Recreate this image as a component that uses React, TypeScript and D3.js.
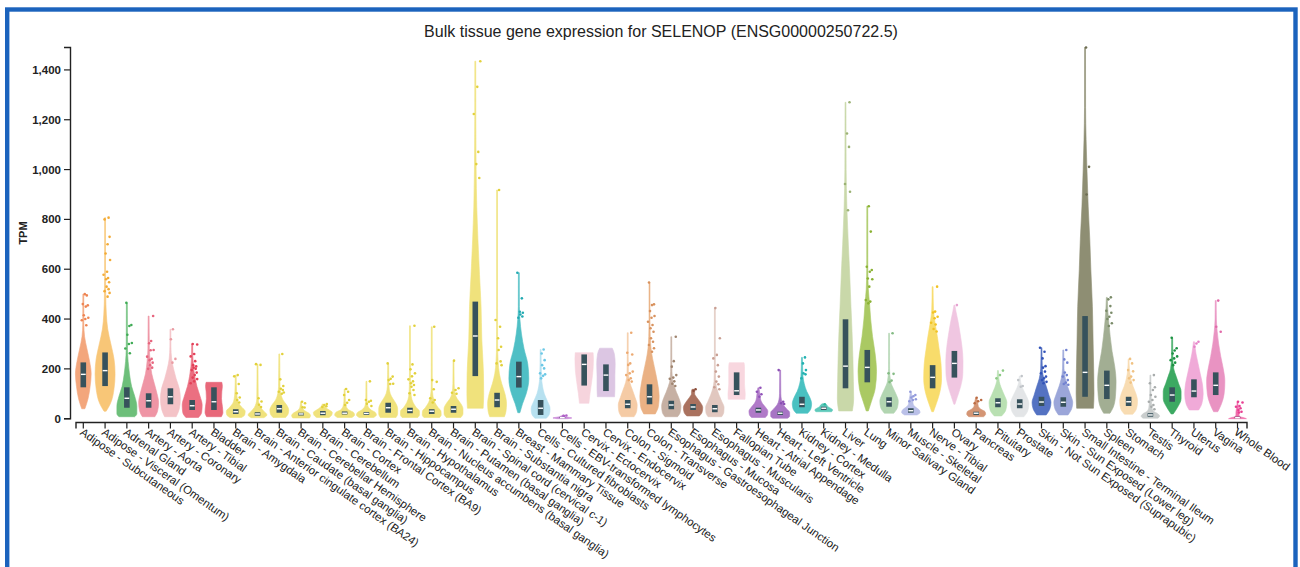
import React from "react";
import * as d3 from "d3";

const tissues = [
  "Adipose - Subcutaneous", "Adipose - Visceral (Omentum)", "Adrenal Gland", "Artery - Aorta",
  "Artery - Coronary", "Artery - Tibial", "Bladder", "Brain - Amygdala",
  "Brain - Anterior cingulate cortex (BA24)", "Brain - Caudate (basal ganglia)", "Brain - Cerebellar Hemisphere",
  "Brain - Cerebellum", "Brain - Cortex", "Brain - Frontal Cortex (BA9)", "Brain - Hippocampus",
  "Brain - Hypothalamus", "Brain - Nucleus accumbens (basal ganglia)", "Brain - Putamen (basal ganglia)",
  "Brain - Spinal cord (cervical c-1)", "Brain - Substantia nigra", "Breast - Mammary Tissue",
  "Cells - Cultured fibroblasts", "Cells - EBV-transformed lymphocytes", "Cervix - Ectocervix",
  "Cervix - Endocervix", "Colon - Sigmoid", "Colon - Transverse", "Esophagus - Gastroesophageal Junction",
  "Esophagus - Mucosa", "Esophagus - Muscularis", "Fallopian Tube", "Heart - Atrial Appendage",
  "Heart - Left Ventricle", "Kidney - Cortex", "Kidney - Medulla", "Liver", "Lung", "Minor Salivary Gland",
  "Muscle - Skeletal", "Nerve - Tibial", "Ovary", "Pancreas", "Pituitary", "Prostate",
  "Skin - Not Sun Exposed (Suprapubic)", "Skin - Sun Exposed (Lower leg)", "Small Intestine - Terminal Ileum",
  "Spleen", "Stomach", "Testis", "Thyroid", "Uterus", "Vagina", "Whole Blood",
];

// [q1, median, q3] in TPM
const quartiles: [number, number, number][] = [
  [126, 178, 226], [131, 193, 266], [44, 82, 126], [44, 72, 102], [58, 88, 122], [35, 52, 75],
  [35, 68, 126], [19, 28, 38], [12, 19, 26], [24, 40, 55], [13, 19, 24], [14, 22, 31],
  [17, 22, 29], [15, 21, 27], [24, 44, 64], [22, 33, 44], [19, 30, 38], [24, 38, 51],
  [171, 332, 470], [46, 75, 104], [125, 169, 229], [15, 42, 75], [2, 4, 7], [133, 218, 258],
  [111, 175, 218], [42, 58, 75], [58, 88, 138], [38, 55, 72], [35, 47, 59], [26, 40, 55],
  [95, 112, 186], [24, 35, 44], [15, 22, 28], [46, 58, 88], [35, 42, 48], [122, 211, 399],
  [146, 206, 276], [48, 68, 86], [24, 32, 42], [122, 166, 215], [165, 222, 272], [15, 22, 28],
  [46, 64, 82], [42, 59, 78], [51, 67, 88], [48, 66, 86], [88, 186, 412], [79, 134, 193],
  [51, 68, 88], [8, 15, 22], [68, 95, 126], [86, 111, 158], [95, 134, 186], [2, 4, 8],
];

// density profile: [TPM, relative density] from min to max
const densities: [number, number][][] = [
  [[40, 0.15], [80, 0.45], [130, 0.65], [180, 0.75], [230, 0.6], [280, 0.35], [330, 0.12], [380, 0.05], [500, 0.03]],
  [[30, 0.1], [60, 0.5], [120, 0.85], [180, 0.95], [240, 0.85], [300, 0.55], [360, 0.25], [420, 0.12], [500, 0.06], [600, 0.04], [807, 0.03]],
  [[8, 0.75], [20, 0.95], [50, 0.95], [90, 0.75], [130, 0.45], [180, 0.25], [230, 0.12], [280, 0.06], [465, 0.03]],
  [[8, 0.6], [30, 0.85], [65, 0.95], [100, 0.8], [140, 0.55], [180, 0.3], [230, 0.15], [280, 0.07], [412, 0.03]],
  [[8, 0.55], [40, 0.85], [80, 0.95], [120, 0.85], [160, 0.55], [200, 0.3], [240, 0.12], [290, 0.05], [359, 0.03]],
  [[5, 0.6], [25, 0.9], [55, 0.95], [90, 0.75], [130, 0.45], [170, 0.25], [210, 0.12], [250, 0.06], [300, 0.03]],
  [[8, 0.7], [25, 0.85], [50, 0.8], [80, 0.72], [110, 0.75], [130, 0.8], [146, 0.75]],
  [[5, 0.55], [15, 0.85], [30, 0.9], [45, 0.6], [60, 0.3], [80, 0.15], [110, 0.08], [175, 0.03]],
  [[4, 0.6], [15, 0.9], [30, 0.6], [45, 0.3], [60, 0.15], [80, 0.07], [219, 0.03]],
  [[5, 0.6], [20, 0.85], [35, 0.9], [55, 0.7], [75, 0.35], [100, 0.15], [130, 0.07], [260, 0.03]],
  [[3, 0.8], [12, 0.9], [22, 0.75], [32, 0.35], [45, 0.12], [68, 0.03]],
  [[5, 0.6], [15, 0.85], [25, 0.9], [35, 0.6], [45, 0.25], [59, 0.05]],
  [[5, 0.7], [15, 0.95], [25, 0.85], [35, 0.4], [50, 0.15], [70, 0.07], [119, 0.03]],
  [[5, 0.7], [15, 0.95], [25, 0.85], [35, 0.45], [50, 0.15], [70, 0.06], [150, 0.03]],
  [[5, 0.75], [20, 0.9], [40, 0.9], [60, 0.75], [80, 0.45], [100, 0.2], [130, 0.08], [222, 0.03]],
  [[5, 0.75], [15, 0.9], [30, 0.9], [45, 0.6], [65, 0.3], [90, 0.12], [130, 0.06], [200, 0.04], [373, 0.03]],
  [[5, 0.75], [15, 0.9], [30, 0.88], [45, 0.6], [65, 0.3], [90, 0.12], [130, 0.05], [369, 0.03]],
  [[5, 0.7], [20, 0.9], [40, 0.9], [60, 0.7], [80, 0.35], [100, 0.15], [140, 0.06], [233, 0.03]],
  [[42, 0.75], [100, 0.8], [180, 0.78], [320, 0.62], [450, 0.55], [580, 0.4], [720, 0.25], [850, 0.14], [1000, 0.08], [1200, 0.05], [1435, 0.03]],
  [[8, 0.7], [30, 0.85], [60, 0.9], [100, 0.75], [140, 0.45], [180, 0.22], [230, 0.1], [300, 0.05], [500, 0.03], [918, 0.025]],
  [[24, 0.1], [60, 0.35], [100, 0.7], [160, 0.95], [220, 0.85], [280, 0.5], [340, 0.25], [400, 0.1], [450, 0.05], [586, 0.03]],
  [[2, 0.55], [20, 0.85], [40, 0.9], [70, 0.65], [100, 0.35], [130, 0.18], [170, 0.08], [278, 0.03]],
  [[0, 0.5], [3, 0.9], [7, 0.4], [12, 0.1]],
  [[62, 0.45], [100, 0.55], [150, 0.72], [200, 0.85], [240, 0.88], [265, 0.85]],
  [[88, 0.82], [120, 0.85], [170, 0.85], [220, 0.88], [260, 0.8], [283, 0.6]],
  [[8, 0.6], [30, 0.85], [55, 0.9], [85, 0.7], [115, 0.45], [145, 0.2], [180, 0.07], [250, 0.04], [345, 0.03]],
  [[19, 0.55], [50, 0.85], [90, 0.92], [130, 0.82], [170, 0.65], [210, 0.45], [240, 0.3], [280, 0.15], [330, 0.07], [400, 0.04], [547, 0.03]],
  [[8, 0.6], [25, 0.85], [50, 0.92], [80, 0.75], [105, 0.5], [130, 0.28], [160, 0.1], [220, 0.05], [329, 0.03]],
  [[11, 0.6], [25, 0.85], [45, 0.92], [65, 0.7], [85, 0.35], [100, 0.15], [110, 0.15], [118, 0.1]],
  [[8, 0.65], [25, 0.85], [45, 0.88], [70, 0.65], [95, 0.4], [120, 0.2], [150, 0.08], [220, 0.04], [444, 0.03]],
  [[78, 0.8], [100, 0.82], [140, 0.75], [180, 0.75], [210, 0.75], [225, 0.7]],
  [[5, 0.65], [15, 0.85], [30, 0.9], [45, 0.7], [60, 0.4], [75, 0.22], [95, 0.15], [110, 0.1], [124, 0.05]],
  [[2, 0.7], [10, 0.9], [25, 0.9], [40, 0.6], [55, 0.3], [75, 0.12], [100, 0.06], [195, 0.03]],
  [[22, 0.55], [40, 0.85], [60, 0.92], [85, 0.75], [110, 0.45], [140, 0.22], [170, 0.1], [246, 0.04]],
  [[28, 0.75], [35, 0.85], [42, 0.65], [48, 0.4], [55, 0.3], [60, 0.15]],
  [[31, 0.65], [80, 0.78], [150, 0.75], [250, 0.7], [350, 0.62], [450, 0.52], [580, 0.4], [700, 0.27], [850, 0.13], [1000, 0.06], [1270, 0.03]],
  [[31, 0.1], [70, 0.4], [120, 0.75], [190, 0.88], [260, 0.75], [330, 0.5], [400, 0.32], [460, 0.22], [520, 0.1], [600, 0.05], [853, 0.03]],
  [[22, 0.45], [45, 0.8], [70, 0.88], [95, 0.7], [120, 0.42], [150, 0.15], [200, 0.05], [343, 0.03]],
  [[15, 0.6], [25, 0.88], [35, 0.8], [45, 0.5], [55, 0.25], [65, 0.2], [80, 0.15], [95, 0.08], [108, 0.03]],
  [[28, 0.08], [60, 0.35], [100, 0.65], [160, 0.85], [220, 0.8], [280, 0.62], [330, 0.45], [380, 0.25], [440, 0.08], [530, 0.03]],
  [[58, 0.05], [90, 0.3], [130, 0.6], [180, 0.8], [230, 0.82], [290, 0.72], [340, 0.55], [390, 0.35], [430, 0.15], [456, 0.04]],
  [[8, 0.7], [18, 0.9], [28, 0.85], [38, 0.45], [50, 0.2], [65, 0.15], [84, 0.05]],
  [[11, 0.35], [35, 0.75], [65, 0.85], [95, 0.6], [125, 0.3], [150, 0.12], [193, 0.03]],
  [[8, 0.4], [30, 0.75], [60, 0.88], [90, 0.65], [120, 0.3], [145, 0.1], [171, 0.03]],
  [[15, 0.45], [40, 0.8], [65, 0.9], [95, 0.7], [130, 0.45], [160, 0.22], [200, 0.08], [285, 0.03]],
  [[15, 0.45], [40, 0.8], [65, 0.9], [95, 0.7], [130, 0.4], [160, 0.2], [200, 0.07], [276, 0.03]],
  [[42, 0.8], [100, 0.85], [200, 0.82], [300, 0.77], [450, 0.7], [600, 0.55], [720, 0.45], [850, 0.3], [1000, 0.18], [1120, 0.1], [1250, 0.05], [1490, 0.03]],
  [[22, 0.3], [45, 0.6], [90, 0.82], [150, 0.88], [210, 0.75], [270, 0.5], [330, 0.32], [380, 0.2], [430, 0.1], [487, 0.03]],
  [[18, 0.4], [40, 0.75], [70, 0.85], [100, 0.7], [130, 0.42], [160, 0.22], [200, 0.08], [240, 0.03]],
  [[2, 0.7], [10, 0.88], [20, 0.7], [30, 0.3], [45, 0.15], [70, 0.1], [100, 0.06], [175, 0.03]],
  [[19, 0.1], [45, 0.5], [80, 0.85], [110, 0.85], [140, 0.62], [170, 0.38], [200, 0.15], [250, 0.06], [325, 0.03]],
  [[35, 0.45], [60, 0.75], [100, 0.88], [140, 0.8], [180, 0.6], [220, 0.4], [260, 0.2], [309, 0.04]],
  [[28, 0.2], [60, 0.55], [100, 0.8], [150, 0.87], [200, 0.72], [250, 0.48], [300, 0.28], [350, 0.14], [400, 0.06], [474, 0.03]],
  [[0, 0.85], [4, 0.6], [8, 0.25], [15, 0.15], [25, 0.15], [40, 0.1], [55, 0.05], [68, 0.02]],
];

const outliers: number[][] = [
  [500, 495, 460, 455, 450, 415, 405, 400, 395, 375],
  [807, 800, 730, 700, 663, 637, 590, 578, 565, 560, 548, 530, 520, 512, 505, 490],
  [465, 376, 372, 337, 304, 300, 282, 263],
  [412, 312, 303, 276, 275, 249, 240, 235, 225, 215, 205, 200],
  [359, 319, 240, 225],
  [300, 298, 260, 250, 231, 215, 210, 205, 200, 195, 185, 175, 165, 159, 150, 142],
  [],
  [175, 170, 139, 102, 85, 75, 65],
  [219, 216, 82, 69, 56, 47],
  [260, 158, 131, 120, 115, 108, 105, 100],
  [68, 62, 46, 45],
  [59, 55, 50, 47],
  [119, 108, 95, 75, 64, 55],
  [150, 75, 72, 68, 60, 51],
  [222, 169, 160, 155, 140, 139],
  [373, 218, 198, 182, 170, 158, 150, 142, 135, 128, 115, 102, 95],
  [369, 155, 148, 118, 82, 75, 65],
  [233, 122, 115, 104, 100],
  [1435, 1332, 1223, 1071, 1022, 966],
  [918, 396, 369, 323, 289, 276, 230, 222, 215],
  [586, 483, 429, 425, 418, 410, 405],
  [278, 262, 235, 215, 202, 182, 178, 172, 162],
  [12, 13, 11],
  [],
  [],
  [345, 265, 258, 222, 216, 189, 182, 175, 162, 155, 149],
  [547, 459, 456, 432, 412, 405, 389, 376, 363, 349, 323, 309, 296, 283, 269],
  [329, 231, 209, 175, 165, 160, 150, 140, 131],
  [118, 112],
  [444, 323, 256, 242, 215, 189, 169, 149, 138, 126, 118],
  [],
  [124, 108, 98, 88],
  [195, 68, 62, 59],
  [246, 222, 195, 182, 178, 162],
  [58],
  [1270, 1145, 1091, 942, 911, 837],
  [853, 751, 610, 597, 590, 563, 560, 530, 476, 470, 463],
  [343, 182, 180, 153, 147],
  [108, 95, 90, 85, 78, 75, 70],
  [530, 430, 426, 409, 403, 385, 378, 360, 350],
  [456],
  [84, 75, 70, 62],
  [193, 175, 162],
  [171, 155, 131, 128],
  [285, 269, 242, 211, 205, 189, 182, 169, 162, 155, 148, 142],
  [276, 238, 225, 185, 175, 169, 155, 145, 139, 136],
  [1490, 1011, 900],
  [487, 479, 452, 433, 425, 409, 400, 383, 372],
  [240, 222, 195, 190, 169, 162, 155, 145],
  [175, 142, 126, 115, 95, 88, 75, 68, 55, 48, 38],
  [325, 283, 274, 262, 250, 242, 235, 225, 215],
  [309, 302, 289],
  [474, 369, 349],
  [68, 65, 51, 48, 42, 35, 28, 25],
];

const yTicks = [0, 200, 400, 600, 800, 1000, 1200, 1400];
const titleText = "Bulk tissue gene expression for SELENOP (ENSG00000250722.5)";
const yLabel = "TPM";

// styles
const fills = [
  "#f3a67c", "#f8c677", "#6dbf7a", "#ef95a5", "#f4c3c7", "#eb6f81", "#e8687a",
  "#f0e27c", "#f0e27c", "#f0e27c", "#f0e27c", "#f0e27c", "#f0e27c", "#f0e27c", "#f0e27c",
  "#f0e27c", "#f0e27c", "#f0e27c", "#f0e27c", "#f0e27c",
  "#4fbfc5", "#b7e1f0", "#c98ad8", "#f6d4dd", "#dcc6e3", "#f5cba5", "#eab184", "#c6b0a3",
  "#aa725f", "#e1c7bf", "#f8d7df", "#b07ac8", "#a774c4", "#4ac1c1", "#5ec9ba", "#c9d8a9",
  "#aac963", "#b2d5b1", "#bac0e8", "#f8dc6b", "#f0c6e1", "#d49574", "#b9e0b2", "#e3e5e7",
  "#5472c2", "#9ba6d9", "#8e8e73", "#a2ae93", "#f8dcb2", "#c9cdcd", "#3ca962", "#f0aad8",
  "#e993c2", "#f16dab",
];
const dotColors = [
  "#ee8452", "#f3ab36", "#3fab55", "#e7657e", "#ea9ca3", "#e34058", "#d84a5c",
  "#e2d13c", "#e2d13c", "#e2d13c", "#e2d13c", "#e2d13c", "#e2d13c", "#e2d13c", "#e2d13c",
  "#e2d13c", "#e2d13c", "#e2d13c", "#e2d13c", "#e2d13c",
  "#22a9b1", "#6cc8e6", "#b062c8", "#eeaabb", "#c7a2d2", "#ecaa72", "#d8925e", "#9f846f",
  "#8b4d3a", "#c99f93", "#eeb0bf", "#9152b9", "#8a4eb4", "#22b1b1", "#2ab79f", "#9bb274",
  "#8ab233", "#84bb84", "#929adb", "#f1c223", "#e6a2d1", "#bb6b42", "#8ecb86", "#c1c5c9",
  "#3152b8", "#7282d1", "#6d6d52", "#7a8b69", "#f0c283", "#a8acac", "#1c9243", "#e682c8",
  "#e16aa9", "#e83f92",
];

const boxColor = "#37525c";
const font = "'Liberation Sans', Arial, Helvetica, sans-serif";
const jitter = [1.5, 3.5, -0.5, 4.5, 2.5, 0.5, 5, 2, -1.5, 3, 1, 4];

export default function App() {
  const W = 1300;
  const H = 567;
  const yMax = d3.max(outliers.flat().concat(densities.map((d) => d[d.length - 1][0]))) as number;
  const x = d3.scalePoint<string>().domain(tissues).range([83.3, 1237.5]);
  const y = d3.scaleLinear().domain([0, yMax]).range([418.7, 47.5]);
  const halfW = 10.5;
  const area = d3
    .area<[number, number]>()
    .y((d) => y(d[0]))
    .x0((d) => -Math.max(d[1] * halfW, 0.45))
    .x1((d) => Math.max(d[1] * halfW, 0.45))
    .curve(d3.curveMonotoneY);

  const axisY = 422.5;
  const xStart = 76;
  const xEnd = 1247;

  return (
    <div style={{ position: "absolute", left: 0, top: 0 }}>
      <svg width={W} height={H} style={{ display: "block", background: "#fff" }} fontFamily={font}>
        <rect x={7.2} y={9.5} width={1288.3} height={700} fill="none" stroke="#1b63bd" strokeWidth={4.4} />
        <text x={661} y={37} textAnchor="middle" fontSize={16} fill="#222">
          {titleText}
        </text>

        {/* y axis */}
        <g>
          <path d={`M64,${y(yMax)}H70.5V${y(0)}H64`} fill="none" stroke="#222" strokeWidth={1.4} />
          {yTicks.map((t) => (
            <g key={t} transform={`translate(0,${y(t)})`}>
              <line x1={64} x2={70.5} stroke="#222" strokeWidth={1.2} />
              <text x={61} dy="0.35em" textAnchor="end" fontSize={11.5} fontWeight="bold" fill="#222">
                {d3.format(",")(t)}
              </text>
            </g>
          ))}
          <text
            transform={`translate(27,233) rotate(-90)`}
            textAnchor="middle"
            fontSize={11}
            fontWeight="bold"
            fill="#222"
          >
            {yLabel}
          </text>
        </g>

        {/* violins */}
        {tissues.map((t, i) => {
          const cx = x(t) as number;
          const [q1, med, q3] = quartiles[i];
          return (
            <g key={t} transform={`translate(${cx},0)`}>
              <path d={area(densities[i]) || ""} fill={fills[i]} stroke={fills[i]} strokeWidth={0.6} />
              {outliers[i].map((v, k) => (
                <circle key={k} cx={jitter[(k + i) % jitter.length]} cy={y(v)} r={1.3} fill={dotColors[i]} />
              ))}
              <rect x={-2.8} width={5.6} y={y(q3)} height={Math.max(y(q1) - y(q3), 1)} fill={boxColor} />
              <rect x={-2.4} width={4.8} y={y(med) - 0.7} height={1.4} fill="#fff" />
            </g>
          );
        })}

        {/* x axis */}
        <g>
          <path d={`M${xStart},${axisY + 6}V${axisY}H${xEnd}V${axisY + 6}`} fill="none" stroke="#222" strokeWidth={1.4} />
          {tissues.map((t) => {
            const cx = x(t) as number;
            return (
              <g key={t}>
                <line x1={cx} x2={cx} y1={axisY} y2={axisY + 6} stroke="#222" strokeWidth={1.2} />
                <text
                  transform={`translate(${cx - 4},434) rotate(35)`}
                  fontSize={11.4}
                  fill="#222"
                  textAnchor="start"
                >
                  {t}
                </text>
              </g>
            );
          })}
        </g>
      </svg>
    </div>
  );
}
